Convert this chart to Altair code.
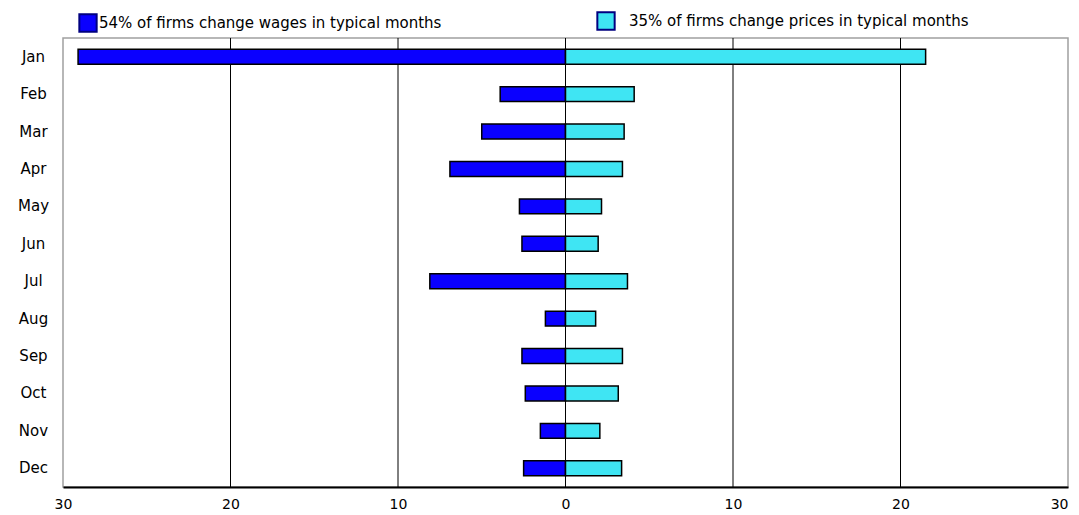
import altair as alt
import pandas as pd

months = ["Jan", "Feb", "Mar", "Apr", "May", "Jun", "Jul", "Aug", "Sep", "Oct", "Nov", "Dec"]
wages = [29.1, 3.9, 5.0, 6.9, 2.75, 2.6, 8.1, 1.2, 2.6, 2.4, 1.5, 2.5]
prices = [21.5, 4.1, 3.5, 3.4, 2.15, 1.95, 3.7, 1.8, 3.4, 3.15, 2.05, 3.35]
series_names = ["54% of firms change wages in typical months",
                "35% of firms change prices in typical months"]
series_colors = ["#0a00ff", "#3fe5f3"]
x_ticks = [-30, -20, -10, 0, 10, 20, 30]
grid_values = [-20, -10, 0, 10, 20]

FONT = "DejaVu Sans"

df_w = pd.DataFrame({"month": months, "series": series_names[0], "value": [-w for w in wages]})
df_p = pd.DataFrame({"month": months, "series": series_names[1], "value": prices})

xscale = alt.Scale(domain=[-30, 30], nice=False, zero=False)
xaxis = alt.Axis(
    title=None, values=x_ticks, labelExpr="abs(datum.value)",
    ticks=False, grid=False, domainColor="black", domainWidth=2,
    labelPadding=10, labelFontSize=14, labelFont=FONT,
    labelColor="black", labelFlush=False,
    labelAlign=alt.condition("datum.value >= 30", alt.value("right"), alt.value("center")),
)
yaxis = alt.Axis(
    title=None, ticks=False, domain=False, grid=False,
    labelAlign="center", labelPadding=30, labelFontSize=15,
    labelFont=FONT, labelColor="black",
)
yscale = alt.Scale(paddingInner=0.6, paddingOuter=0.3)

grid = alt.Chart(pd.DataFrame({"g": grid_values})).mark_rule(
    color="black", strokeWidth=1
).encode(x=alt.X("g:Q", scale=xscale, axis=xaxis))


def series_layer(data, idx, legend_x, legend_y, offset):
    return alt.Chart(data).mark_bar(stroke="black", strokeWidth=1.5, opacity=1).encode(
        x=alt.X("value:Q", scale=xscale, axis=xaxis),
        y=alt.Y("month:N", sort=months, scale=yscale, axis=yaxis),
        color=alt.Color(
            "series:N",
            scale=alt.Scale(domain=[series_names[idx]], range=[series_colors[idx]]),
            legend=alt.Legend(
                title=None, orient="none", legendX=legend_x, legendY=legend_y,
                symbolType="square", symbolSize=300,
                symbolStrokeColor="#000080", symbolStrokeWidth=2,
                symbolOpacity=1, labelFontSize=15, labelFont=FONT,
                labelColor="black", labelLimit=500, labelOffset=offset,
            ),
        ),
    )


bars_w = series_layer(df_w, 0, 15, -25, 1)
bars_p = series_layer(df_p, 1, 533, -27, 13)

chart = alt.layer(grid, bars_w, bars_p).resolve_scale(color="independent").properties(
    width=1005, height=449,
    padding={"left": 55, "top": 30, "right": 3, "bottom": 24},
    autosize=alt.AutoSizeParams(type="none"),
).configure_view(stroke="#a0a0a0", strokeWidth=1.5)

chart.save("out.html", embed_options={"renderer": "svg", "actions": False})
